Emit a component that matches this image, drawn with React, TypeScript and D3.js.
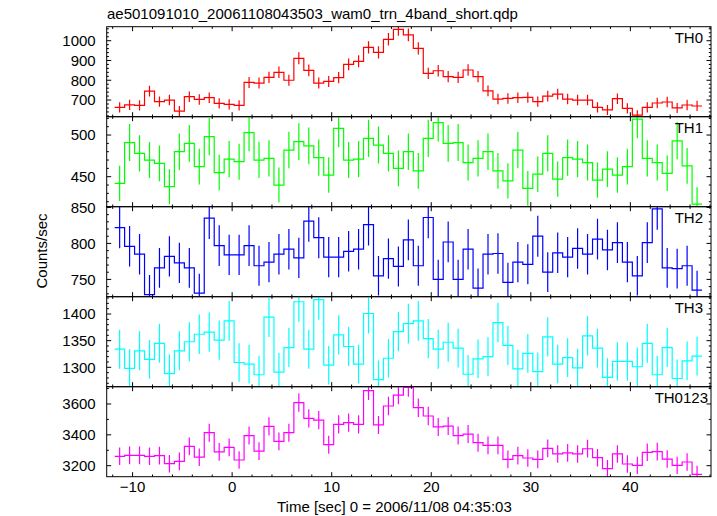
import * as d3 from "d3";

// bin centres [sec], 1 s bins
const TIME = [
  -11.3, -10.3, -9.3, -8.3, -7.3, -6.3, -5.3, -4.3, -3.3, -2.3,
  -1.3, -0.3, 0.7, 1.7, 2.7, 3.7, 4.7, 5.7, 6.7, 7.7,
  8.7, 9.7, 10.7, 11.7, 12.7, 13.7, 14.7, 15.7, 16.7, 17.7,
  18.7, 19.7, 20.7, 21.7, 22.7, 23.7, 24.7, 25.7, 26.7, 27.7,
  28.7, 29.7, 30.7, 31.7, 32.7, 33.7, 34.7, 35.7, 36.7, 37.7,
  38.7, 39.7, 40.7, 41.7, 42.7, 43.7, 44.7, 45.7, 46.7,
];

const TH0 = [
  663, 676, 673, 745, 692, 700, 644, 717, 703, 712,
  683, 678, 673, 789, 786, 815, 840, 800, 911, 850,
  786, 794, 813, 880, 896, 966, 941, 1007, 1057, 1029,
  961, 835, 848, 818, 815, 852, 818, 746, 705, 708,
  712, 713, 692, 720, 730, 705, 700, 700, 663, 650,
  707, 658, 624, 663, 685, 690, 660, 675, 670,
];

const TH1 = [
  442, 491, 478, 470, 466, 438, 480, 490, 462, 498,
  455, 471, 468, 503, 470, 472, 440, 482, 492, 487,
  473, 452, 508, 470, 471, 496, 488, 478, 460, 480,
  457, 496, 515, 490, 491, 467, 472, 480, 457, 445,
  482, 436, 453, 478, 447, 473, 471, 467, 446, 459,
  452, 462, 519, 472, 467, 454, 493, 463, 417,
];

const TH2 = [
  822, 796, 785, 729, 766, 782, 773, 766, 731, 835,
  797, 784, 784, 797, 769, 774, 785, 792, 780, 831,
  808, 781, 781, 789, 792, 826, 755, 779, 768, 805,
  769, 836, 750, 802, 750, 792, 738, 785, 786, 746,
  774, 771, 810, 760, 787, 781, 793, 785, 806, 791,
  801, 774, 755, 801, 848, 766, 765, 769, 735,
];

const TH3 = [
  1334, 1298, 1331, 1315, 1345, 1288, 1331, 1348, 1362, 1366,
  1351, 1387, 1309, 1306, 1286, 1394, 1291, 1337, 1423, 1334,
  1427, 1304, 1361, 1339, 1306, 1401, 1277, 1317, 1367, 1382,
  1387, 1354, 1334, 1347, 1336, 1287, 1316, 1320, 1384, 1341,
  1297, 1326, 1292, 1357, 1306, 1318, 1299, 1359, 1336, 1281,
  1311, 1311, 1301, 1345, 1286, 1337, 1279, 1312, 1321,
];

const TH0123 = [
  3261, 3267, 3267, 3261, 3265, 3213, 3228, 3325, 3255, 3414,
  3289, 3319, 3237, 3395, 3295, 3455, 3358, 3414, 3609, 3507,
  3496, 3336, 3468, 3479, 3468, 3686, 3464, 3587, 3658, 3708,
  3576, 3522, 3451, 3457, 3395, 3405, 3349, 3332, 3332, 3241,
  3265, 3250, 3241, 3312, 3276, 3283, 3276, 3310, 3252, 3181,
  3276, 3211, 3202, 3287, 3291, 3243, 3202, 3224, 3144,
];

const X_TICKS = [-10, 0, 10, 20, 30, 40];

const TITLE = "ae501091010_20061108043503_wam0_trn_4band_short.qdp";
const X_LABEL = "Time [sec] 0 = 2006/11/08 04:35:03";
const Y_LABEL = "Counts/sec";

interface PanelDef {
  name: string;
  values: number[];
  color: string;
  domain: [number, number];
  major: number;
  minor: number;
}

const PANELS: PanelDef[] = [
  { name: "TH0", values: TH0, color: "#ff0000", domain: [615.8, 1070.8], major: 100, minor: 20 },
  { name: "TH1", values: TH1, color: "#00ff00", domain: [414, 522], major: 50, minor: 10 },
  { name: "TH2", values: TH2, color: "#0000ff", domain: [726, 851], major: 50, minor: 10 },
  { name: "TH3", values: TH3, color: "#00ffff", domain: [1263.6, 1432.5], major: 50, minor: 10 },
  { name: "TH0123", values: TH0123, color: "#ff00ff", domain: [3128.7, 3712], major: 200, minor: 100 },
];

const W = 717;
const H = 516;
const LEFT = 106.7;
const RIGHT = 711;
const TOP = 26.7;
const PANEL_H = 90;
const FONT = "'Liberation Sans', Arial, Helvetica, sans-serif";

const x = d3.scaleLinear().domain([-12.6, 48.1]).range([LEFT, RIGHT]);

function ticksBetween(lo: number, hi: number, step: number) {
  const out: number[] = [];
  for (let v = Math.ceil(lo / step) * step; v <= hi + 1e-9; v += step) out.push(v);
  return out;
}

function Panel({ def, index }: { def: PanelDef; index: number }) {
  const top = TOP + index * PANEL_H;
  const bottom = top + PANEL_H;
  const y = d3.scaleLinear().domain(def.domain).range([bottom, top]);
  const clipId = `clip-${def.name}`;

  // histogram steps: each bin drawn across its full width
  const pts: [number, number][] = [];
  TIME.forEach((t, i) => {
    pts.push([t - 0.5, def.values[i]]);
    pts.push([t + 0.5, def.values[i]]);
  });
  const line = d3
    .line<[number, number]>()
    .x((d) => x(d[0]))
    .y((d) => y(d[1]));

  const [xd0, xd1] = x.domain();
  const xMajor = ticksBetween(xd0, xd1, 10);
  const xMinor = ticksBetween(xd0, xd1, 2).filter((v) => Math.abs(v % 10) > 1e-6);
  const yMajor = ticksBetween(def.domain[0], def.domain[1], def.major);
  const yMinor = ticksBetween(def.domain[0], def.domain[1], def.minor).filter(
    (v) => Math.abs(v % def.major) > 1e-6
  );
  const isLast = index === PANELS.length - 1;

  return (
    <g>
      <defs>
        <clipPath id={clipId}>
          <rect x={LEFT} y={top} width={RIGHT - LEFT} height={PANEL_H} />
        </clipPath>
      </defs>
      <g clipPath={`url(#${clipId})`} stroke={def.color} fill="none" strokeWidth={1.2}>
        <path d={line(pts) ?? ""} />
        {TIME.map((t, i) => {
          // Poisson error of a 1 s bin rate
          const e = Math.sqrt(def.values[i]);
          return (
            <line
              key={i}
              x1={x(t)}
              x2={x(t)}
              y1={y(def.values[i] - e)}
              y2={y(def.values[i] + e)}
            />
          );
        })}
      </g>

      <g stroke="#000" strokeWidth={1}>
        <rect x={LEFT} y={top} width={RIGHT - LEFT} height={PANEL_H} fill="none" />
        {xMajor.map((v) => (
          <g key={`xM${v}`}>
            <line x1={x(v)} x2={x(v)} y1={bottom} y2={bottom - 4.5} />
            <line x1={x(v)} x2={x(v)} y1={top} y2={top + 4.5} />
          </g>
        ))}
        {xMinor.map((v) => (
          <g key={`xm${v}`}>
            <line x1={x(v)} x2={x(v)} y1={bottom} y2={bottom - 2.2} />
            <line x1={x(v)} x2={x(v)} y1={top} y2={top + 2.2} />
          </g>
        ))}
        {yMajor.map((v) => (
          <g key={`yM${v}`}>
            <line x1={LEFT} x2={LEFT + 4.5} y1={y(v)} y2={y(v)} />
            <line x1={RIGHT} x2={RIGHT - 4.5} y1={y(v)} y2={y(v)} />
          </g>
        ))}
        {yMinor.map((v) => (
          <g key={`ym${v}`}>
            <line x1={LEFT} x2={LEFT + 2.2} y1={y(v)} y2={y(v)} />
            <line x1={RIGHT} x2={RIGHT - 2.2} y1={y(v)} y2={y(v)} />
          </g>
        ))}
      </g>

      <g fontFamily={FONT} fontSize={15} fill="#000">
        {yMajor.map((v) => (
          <text key={`yl${v}`} x={LEFT - 11} y={y(v) + 5.3} textAnchor="end">
            {v}
          </text>
        ))}
        <text x={isLast ? 708 : 703} y={top + 16} textAnchor="end">
          {def.name}
        </text>
        {isLast &&
          X_TICKS.map((v) => (
            <text key={`xl${v}`} x={x(v)} y={bottom + 15.5} textAnchor="middle">
              {d3.format("d")(v)}
            </text>
          ))}
      </g>
    </g>
  );
}

export default function App() {
  return (
    <svg
      width={W}
      height={H}
      viewBox={`0 0 ${W} ${H}`}
      style={{ position: "absolute", left: 0, top: 0, background: "#fff" }}
    >
      <rect width={W} height={H} fill="#fff" />
      <text x={107} y={18.5} fontFamily={FONT} fontSize={15}>
        {TITLE}
      </text>
      {PANELS.map((p, i) => (
        <Panel key={p.name} def={p} index={i} />
      ))}
      <text x={277} y={511.5} fontFamily={FONT} fontSize={15}>
        {X_LABEL}
      </text>
      <text
        transform={`translate(47,251) rotate(-90)`}
        textAnchor="middle"
        fontFamily={FONT}
        fontSize={15}
      >
        {Y_LABEL}
      </text>
    </svg>
  );
}
